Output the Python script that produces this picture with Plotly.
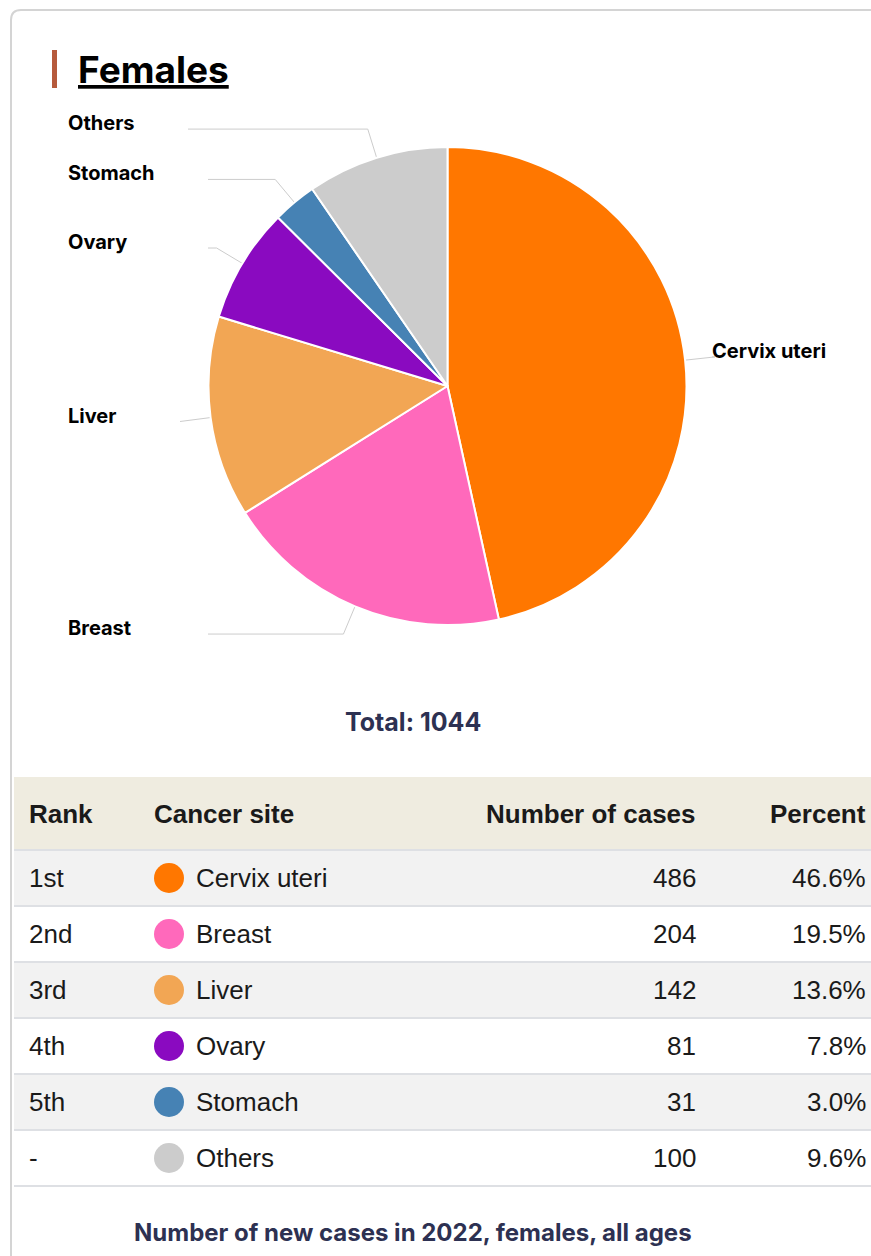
import math
import plotly.graph_objects as go

# ---------------- data ----------------
sites = ["Cervix uteri", "Breast", "Liver", "Ovary", "Stomach", "Others"]
cases = [486, 204, 142, 81, 31, 100]
ranks = ["1st", "2nd", "3rd", "4th", "5th", "-"]
colors = ["#FF7700", "#FF69BB", "#F2A654", "#8A0AC0", "#4682B4", "#CCCCCC"]
header = ["Rank", "Cancer site", "Number of cases", "Percent"]
title_text = "Females"
footer_text = "Number of new cases in 2022, females, all ages"

total = sum(cases)
percents = [f"{100 * c / total:.1f}%" for c in cases]

# ---------------- layout constants (pixels) ----------------
W, H = 871, 1256
CX, CY, R = 447.5, 386, 239
LABEL_DIST = 30
conn_end_x = [712, 208, 180, 208, 208, 188]   # where connector meets label
LEFT_LABEL_X, RIGHT_LABEL_X = 66, 710
NAVY = "#2D3152"
TXT = "#1A1A1A"
LINE_GRAY = "#CCCCCC"

TABLE_X0, TABLE_X1 = 14, W + 5
HEAD_Y0, HEAD_Y1 = 777, 850
ROW_H = 56
TABLE_FONT = 26

fig = go.Figure()

# pie
fig.add_trace(go.Pie(
    labels=sites, values=cases, sort=False, direction="clockwise", rotation=0,
    marker=dict(colors=colors, line=dict(color="white", width=2)),
    textinfo="none", hoverinfo="label+value+percent", showlegend=False,
    domain=dict(x=[(CX - R) / W, (CX + R) / W],
                y=[1 - (CY + R) / H, 1 - (CY - R) / H]),
))

annotations = []
shapes = []

# leader lines + labels
cum = 0
for i, (s, c) in enumerate(zip(sites, cases)):
    mid = (cum + c / 2) / total * 2 * math.pi
    cum += c
    sx, sy = CX + R * math.sin(mid), CY - R * math.cos(mid)
    bx, by = CX + (R + LABEL_DIST) * math.sin(mid), CY - (R + LABEL_DIST) * math.cos(mid)
    ex = conn_end_x[i]
    fig.add_trace(go.Scatter(
        x=[sx, bx, ex], y=[sy, by, by], mode="lines",
        line=dict(color=LINE_GRAY, width=1), hoverinfo="skip", showlegend=False))
    right = math.sin(mid) > 0
    annotations.append(dict(
        x=RIGHT_LABEL_X if right else LEFT_LABEL_X, y=by - 6, xref="x", yref="y",
        text=f"<b>{s}</b>", showarrow=False, xanchor="left", yanchor="middle",
        font=dict(family="Inter", size=20, color="#000000")))

# card border
shapes.append(dict(type="path", path=f"M 11 {H + 10} L 11 20 Q 11 10 21 10 L {W + 10} 10",
                   line=dict(color="#D4D4D4", width=2), xref="x", yref="y", layer="below"))
# title bar
shapes.append(dict(type="rect", x0=52, x1=57, y0=50, y1=88, fillcolor="#B65A3C",
                   line=dict(width=0), xref="x", yref="y"))
annotations.append(dict(x=76, y=69, xref="x", yref="y", text=f"<b>{title_text}</b>",
                        showarrow=False, xanchor="left", yanchor="middle",
                        font=dict(family="Inter", size=37, color="#000000", lineposition="under")))

# total
annotations.append(dict(x=413, y=722, xref="x", yref="y", text=f"<b>Total: {total}</b>",
                        showarrow=False, xanchor="center", yanchor="middle",
                        font=dict(family="Inter", size=25, color=NAVY)))

# table header
shapes.append(dict(type="rect", x0=TABLE_X0, x1=TABLE_X1, y0=HEAD_Y0, y1=HEAD_Y1,
                   fillcolor="#EFECE0", line=dict(width=0), xref="x", yref="y", layer="below"))
col_x = [27, 152, 698, 868]
col_anchor = ["left", "left", "right", "right"]
for t, x, a in zip(header, col_x, col_anchor):
    annotations.append(dict(x=x, y=(HEAD_Y0 + HEAD_Y1) / 2, xref="x", yref="y", text=f"<b>{t}</b>",
                            showarrow=False, xanchor=a, yanchor="middle",
                            font=dict(family="Liberation Sans", size=TABLE_FONT, color=TXT)))

# table rows
row_y = []
for i in range(len(sites)):
    y0 = HEAD_Y1 + i * ROW_H
    yc = y0 + ROW_H / 2
    row_y.append(yc)
    if i % 2 == 0:
        shapes.append(dict(type="rect", x0=TABLE_X0, x1=TABLE_X1, y0=y0, y1=y0 + ROW_H,
                           fillcolor="#F2F2F2", line=dict(width=0), xref="x", yref="y", layer="below"))
    vals = [ranks[i], sites[i], str(cases[i]), percents[i]]
    xs = [27, 194, 698, 868]
    for t, x, a in zip(vals, xs, col_anchor):
        annotations.append(dict(x=x, y=yc, xref="x", yref="y", text=t, showarrow=False,
                                xanchor=a, yanchor="middle",
                                font=dict(family="Liberation Sans", size=TABLE_FONT, color=TXT)))
for i in range(len(sites) + 1):
    y = HEAD_Y1 + i * ROW_H
    shapes.append(dict(type="line", x0=TABLE_X0, x1=TABLE_X1, y0=y, y1=y,
                       line=dict(color="#DEE0E4", width=2), xref="x", yref="y", layer="below"))

fig.add_trace(go.Scatter(
    x=[169] * len(sites), y=row_y, mode="markers",
    marker=dict(size=30, color=colors, line=dict(width=0)),
    hovertext=sites, hoverinfo="text", showlegend=False))

# footer
annotations.append(dict(x=413, y=1232, xref="x", yref="y", text=f"<b>{footer_text}</b>",
                        showarrow=False, xanchor="center", yanchor="middle",
                        font=dict(family="Inter", size=24, color=NAVY)))

fig.update_layout(
    width=W, height=H, margin=dict(l=0, r=0, t=0, b=0),
    paper_bgcolor="white", plot_bgcolor="white",
    xaxis=dict(range=[0, W], visible=False, fixedrange=True, domain=[0, 1]),
    yaxis=dict(range=[H, 0], visible=False, fixedrange=True, domain=[0, 1]),
    shapes=shapes, annotations=annotations, showlegend=False,
)

fig.write_html("out.html")
